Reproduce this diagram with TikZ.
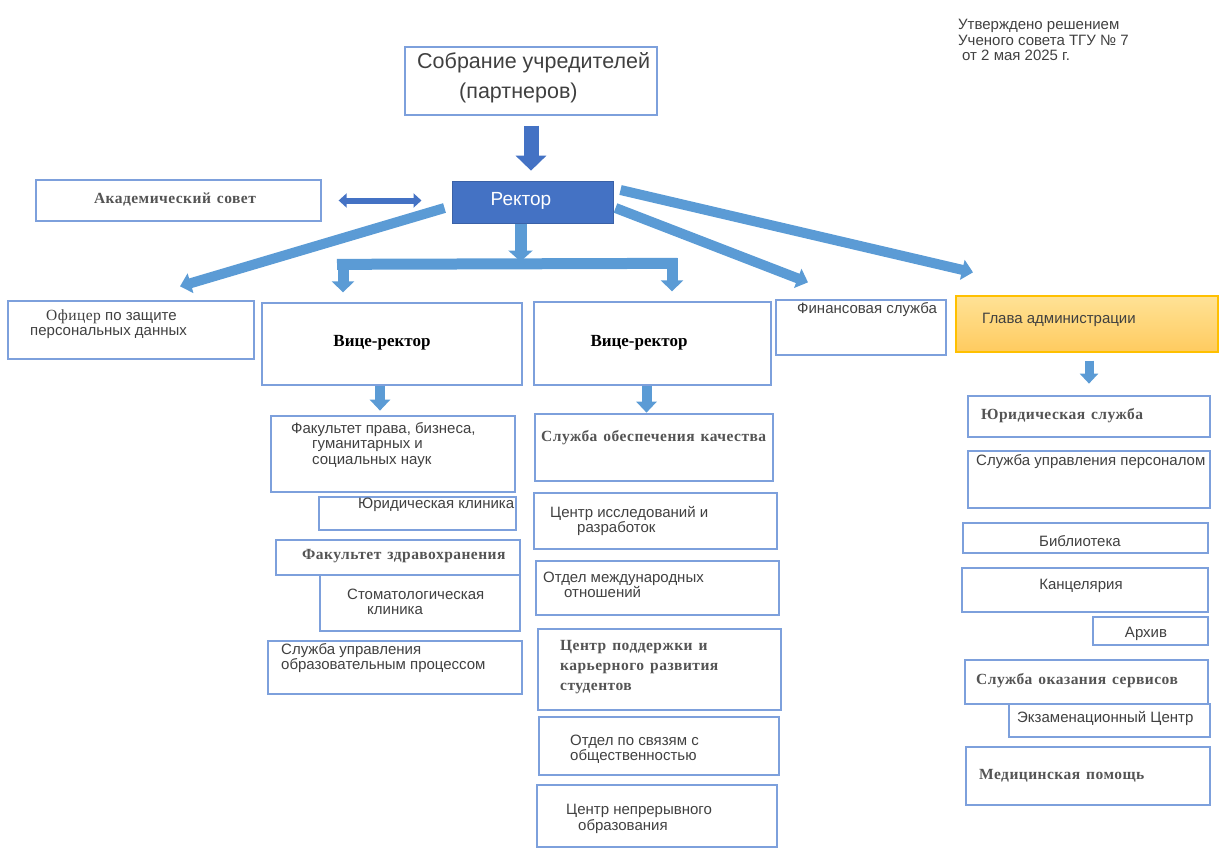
\documentclass[tikz,border=0pt]{standalone}
\usepackage{fontspec}
\setmainfont{Liberation Serif}
\setsansfont{Liberation Sans}
\usetikzlibrary{arrows.meta,fit}
\definecolor{arrowblue}{RGB}{91,155,213}
\definecolor{darkblue}{RGB}{68,114,196}
\definecolor{boxline}{RGB}{125,160,220}
\definecolor{txtgray}{RGB}{64,64,64}
\definecolor{serifgray}{RGB}{84,84,84}
\definecolor{headtop}{RGB}{255,226,150}
\definecolor{headbot}{RGB}{255,203,95}
\definecolor{headline}{RGB}{255,192,0}
\newcommand{\serifwide}{\rmfamily\bfseries\fontsize{15.5}{20}\selectfont\addfontfeatures{LetterSpace=3}\spaceskip=6pt plus 2pt\relax}
\tikzset{
  box/.style={draw=boxline,line width=1.3pt,inner sep=0pt},
  txt/.style={font=\sffamily\fontsize{15}{15.5}\selectfont,text=txtgray,inner sep=0pt,align=left},
  stxt/.style={font=\serifwide,text=serifgray,inner sep=0pt,align=left},
  fat/.style={draw=arrowblue,line width=10pt,-{Triangle[length=11pt,width=20pt]}},
}
\begin{document}
\begin{tikzpicture}[x=1pt,y=-1pt]
\useasboundingbox (0,0) rectangle (1221,859);
% boxes
\foreach \nm/\xa/\ya/\xb/\yb in {sobr/405/47/657/115,acad/36/180/321/221,officer/8/301/254/359,
  vpA/262/303/522/385,vpB/534/302/771/385,fin/776/300/946/355,
  facLaw/271/416/515/492,lawClinic/319/497/516/530,facHealth/276/540/520/575,dental/320/575/520/631,eduProc/268/641/522/694,
  quality/535/414/773/481,research/534/493/777/549,intl/536/561/779/615,career/538/629/781/710,pr/539/717/779/775,contEdu/537/785/777/847,
  legal/968/396/1210/437,hr/968/451/1210/508,library/963/523/1208/553,chancery/962/568/1208/612,archive/1093/617/1208/645,
  services/965/660/1208/704,exam/1009/704/1210/737,medical/966/747/1210/805}
  \node[box,fit={(\xa,\ya)(\xb,\yb)}] (\nm) {};
\node[fit={(452,181)(613,223)},inner sep=0pt,fill=darkblue,draw=darkblue!85!black,line width=1pt] (rector) {};
\node[fit={(956,296)(1218,352)},inner sep=0pt,top color=headtop,bottom color=headbot,draw=headline,line width=1.3pt] (head) {};

% arrows
\draw[fat,draw=darkblue,line width=15pt,-{Triangle[length=15pt,width=30pt]}] ([yshift=-10pt]sobr.south) -- ++(0,45);
\draw[darkblue,line width=6pt,{Triangle[length=8pt,width=14pt]}-{Triangle[length=8pt,width=14pt]}] ([xshift=17pt]acad.east) -- ([xshift=-30pt]acad.east -| rector.west);
\draw[fat] ([xshift=-7pt,yshift=-6pt]rector.west) -- ([xshift=49pt,yshift=14pt]officer.north);
\draw[fat,line width=12pt,-{Triangle[length=11pt,width=24pt]}] ([xshift=-12pt]rector.south) -- ++(0,38);
\draw[arrowblue,line width=11pt] ([xshift=-55pt,yshift=38pt]vpA.north) -- ([xshift=25pt,yshift=38pt]vpB.north);
\draw[fat,line width=11pt,-{Triangle[length=11pt,width=22pt]}] ([xshift=-49pt,yshift=43pt]vpA.north) -- ([xshift=-49pt,yshift=10pt]vpA.north);
\draw[fat,line width=11pt,-{Triangle[length=11pt,width=22pt]}] ([xshift=19.5pt,yshift=43pt]vpB.north) -- ([xshift=19.5pt,yshift=10pt]vpB.north);
\draw[fat] ([xshift=2pt,yshift=-6pt]rector.east) -- ([xshift=-53pt,yshift=17pt]fin.north);
\draw[fat] ([xshift=7pt,yshift=12pt]rector.east) -- ([xshift=-114pt,yshift=23pt]head.north);
\draw[fat] ([xshift=-12pt]vpA.south) -- ++(0,25);
\draw[fat] ([xshift=-6pt]vpB.south) -- ++(0,27);
\draw[fat,line width=9pt,-{Triangle[length=10pt,width=18pt]}] ([xshift=2pt,yshift=-8pt]head.south) -- ++(0,23);

% texts
\node[txt,anchor=west] (note) at (958,40) {Утверждено решением\\Ученого совета ТГУ № 7\\\hspace*{4pt}от 2 мая 2025 г.};
\node[txt,font=\sffamily\fontsize{21.5}{30}\selectfont,anchor=west] (sobrT) at (417,78) {Собрание учредителей\\\hspace*{42pt}(партнеров)};
\node[txt,font=\sffamily\fontsize{19}{20}\selectfont,text=white] (rectorT) at (521,201) {Ректор};
\node[stxt] (acadT) at (175,200) {Академический совет};
\node[txt,anchor=west] (officerT) at (30,324) {\hspace*{16pt}{\serifwide\mdseries Офицер} по защите\\персональных данных};
\node[stxt,font=\rmfamily\bfseries\fontsize{17}{20}\selectfont,text=black] (vpAT) at (382,343) {Вице-ректор};
\node[stxt,font=\rmfamily\bfseries\fontsize{17}{20}\selectfont,text=black] (vpBT) at (639,343) {Вице-ректор};
\node[txt,anchor=west] (finT) at (797,310) {Финансовая служба};
\node[txt,anchor=west] (headT) at (982,320) {Глава администрации};

\node[txt,anchor=west] (facLawT) at (291,445) {Факультет права, бизнеса,\\\hspace*{21pt}гуманитарных и\\\hspace*{21pt}социальных наук};
\node[txt,anchor=west] (lawClinicT) at (358,505) {Юридическая клиника};
\node[stxt,anchor=west] (facHealthT) at (302,556) {Факультет здравохранения};
\node[txt,anchor=west] (dentalT) at (347,602) {Стоматологическая\\\hspace*{20pt}клиника};
\node[txt,anchor=west] (eduProcT) at (281,658) {Служба управления\\образовательным процессом};

\node[stxt,anchor=west] (qualityT) at (541,438) {Служба обеспечения качества};
\node[txt,anchor=west] (researchT) at (550,521) {Центр исследований и\\\hspace*{27pt}разработок};
\node[txt,anchor=west] (intlT) at (543,585) {Отдел международных\\\hspace*{21pt}отношений};
\node[stxt,anchor=west] (careerT) at (560,667) {Центр поддержки и\\карьерного развития\\студентов};
\node[txt,anchor=west] (prT) at (570,749) {Отдел по связям с\\общественностью};
\node[txt,anchor=west] (contEduT) at (566,819) {Центр непрерывного\\\hspace*{12pt}образования};

\node[stxt,anchor=west] (legalT) at (981,416) {Юридическая служба};
\node[txt,anchor=west] (hrT) at (976,462) {Служба управления персоналом};
\node[txt] (libraryT) at (1080,541) {Библиотека};
\node[txt] (chanceryT) at (1081,586) {Канцелярия};
\node[txt] (archiveT) at (1146,634) {Архив};
\node[stxt,anchor=west] (servicesT) at (976,681) {Служба оказания сервисов};
\node[txt,anchor=west] (examT) at (1017,718) {Экзаменационный Центр};
\node[stxt,anchor=west] (medicalT) at (979,776) {Медицинская помощь};
\end{tikzpicture}
\end{document}
